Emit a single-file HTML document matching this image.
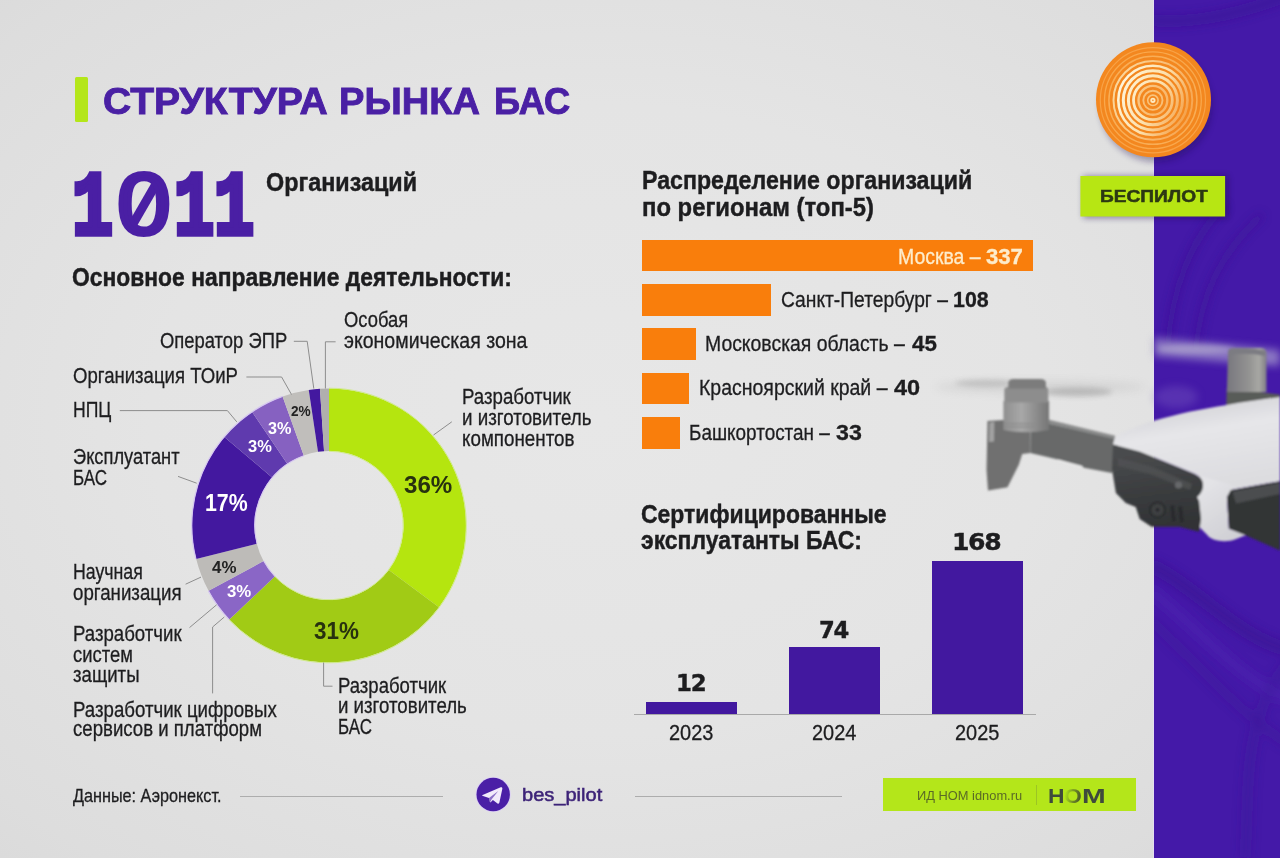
<!DOCTYPE html>
<html lang="ru">
<head>
<meta charset="utf-8">
<title>Структура рынка БАС</title>
<style>
*{margin:0;padding:0;box-sizing:border-box}
html,body{width:1280px;height:858px;overflow:hidden;background:#e4e4e4}
#page{position:relative;width:1280px;height:858px;overflow:hidden;
  background:radial-gradient(ellipse 1000px 700px at 600px 420px,#e7e7e7 0%,#e4e4e4 45%,#dddddd 80%,#d7d7d7 100%)}
.abs{position:absolute}
.t{position:absolute;white-space:nowrap;transform-origin:0 50%;line-height:1}
#stripe{position:absolute;left:1154px;top:0;width:126px;height:858px;background:#4419a8;overflow:hidden}
.hbar{position:absolute;left:641.6px;height:31.8px;background:#f97e0c}
.vbar{position:absolute;background:#42189f}
.gbox{position:absolute;background:#b4e61a}
svg{position:absolute;left:0;top:0;overflow:visible}

</style>
</head>
<body>
<div id="page">

<div id="stripe">
<svg width="126" height="858" viewBox="1154 0 126 858">
<defs><filter id="bw" x="-20%" y="-20%" width="140%" height="140%"><feGaussianBlur stdDeviation="4.5"/></filter></defs>
<g filter="url(#bw)" fill="none">
<path d="M1150 20C1200 25 1250 10 1290 -5" stroke="#3a1394" stroke-width="12" opacity=".5"/>
<path d="M1168 345C1172 290 1190 240 1225 205" stroke="#3a1392" stroke-width="7" opacity=".5"/>
<path d="M1196 350C1200 300 1218 255 1262 215" stroke="#3a1392" stroke-width="7" opacity=".45"/>
<path d="M1150 565C1195 585 1240 640 1290 650" stroke="#39128f" stroke-width="14" opacity=".5"/>
<path d="M1150 590C1195 625 1240 680 1290 700" stroke="#4d24b4" stroke-width="12" opacity=".45"/>
<path d="M1150 620C1195 660 1240 715 1290 745" stroke="#3b1494" stroke-width="10" opacity=".35"/>
<path d="M1245 858C1250 790 1240 720 1290 660" stroke="#3b1496" stroke-width="12" opacity=".3"/>
</g>
</svg>
</div>

<div class="abs" id="stripe-edge" style="left:1153.2px;top:0;width:1px;height:858px;background:#e6def5;opacity:.75"></div>
<div class="abs" id="zeroslash" style="left:139.6px;top:178px;width:8.6px;height:52px;background:#4a1fa4;transform:rotate(30deg)"></div>
<div class="abs" id="titlebar" style="left:74.8px;top:77.4px;width:13.2px;height:44.4px;background:#b4e61a;border-radius:1.5px"></div>

<svg id="donut" width="1280" height="858" viewBox="0 0 1280 858">
<g>
<path d="M329.00 388.50A137.0 137.0 0 0 1 438.99 607.18L388.81 569.92A74.5 74.5 0 0 0 329.00 451.00Z" fill="#b5e50f"/>
<path d="M438.99 607.18A137.0 137.0 0 0 1 229.30 619.46L274.78 576.59A74.5 74.5 0 0 0 388.81 569.92Z" fill="#a1cb15"/>
<path d="M229.30 619.46A137.0 137.0 0 0 1 208.60 590.87L263.53 561.05A74.5 74.5 0 0 0 274.78 576.59Z" fill="#8a66c6"/>
<path d="M208.60 590.87A137.0 137.0 0 0 1 196.19 559.11L256.78 543.78A74.5 74.5 0 0 0 263.53 561.05Z" fill="#bdbbb8"/>
<path d="M196.19 559.11A137.0 137.0 0 0 1 224.36 437.07L272.10 477.41A74.5 74.5 0 0 0 256.78 543.78Z" fill="#43189f"/>
<path d="M224.36 437.07A137.0 137.0 0 0 1 252.19 412.06L287.23 463.81A74.5 74.5 0 0 0 272.10 477.41Z" fill="#5f3aae"/>
<path d="M252.19 412.06A137.0 137.0 0 0 1 282.59 396.60L303.76 455.40A74.5 74.5 0 0 0 287.23 463.81Z" fill="#8661c1"/>
<path d="M282.59 396.60A137.0 137.0 0 0 1 308.75 390.00L317.99 451.82A74.5 74.5 0 0 0 303.76 455.40Z" fill="#c0bebb"/>
<path d="M308.75 390.00A137.0 137.0 0 0 1 319.92 388.80L324.06 451.16A74.5 74.5 0 0 0 317.99 451.82Z" fill="#43189f"/>
<path d="M319.92 388.80A137.0 137.0 0 0 1 329.00 388.50L329.00 451.00A74.5 74.5 0 0 0 324.06 451.16Z" fill="#b0afad"/>
<path d="M229.08 619.66A137.3 137.3 0 0 1 208.34 591.01" fill="none" stroke="#d6c8f0" stroke-width="1.3"/>
<path d="M195.90 559.18A137.3 137.3 0 0 1 282.49 396.32" fill="none" stroke="#d6c8f0" stroke-width="1.3"/>
<path d="M275.00 576.39A74.2 74.2 0 0 1 263.79 560.91" fill="none" stroke="#d6c8f0" stroke-width="1.1"/>
<path d="M257.07 543.70A74.2 74.2 0 0 1 303.87 455.69" fill="none" stroke="#d6c8f0" stroke-width="1.1"/>
<path d="M329.00 388.20A137.3 137.3 0 1 1 229.08 619.66" fill="none" stroke="#cfe98a" stroke-width="1.0"/>
<path d="M329.00 451.30A74.2 74.2 0 1 1 275.00 576.39" fill="none" stroke="#d2ea94" stroke-width="1.0"/>
</g>
<g fill="none" stroke="#8d8d8d" stroke-width="1">
<path d="M293.8 341.3H307.2L313.8 388.6"/>
<path d="M246.4 377H281.6L291.5 394.5"/>
<path d="M119.8 410.6H227.4L236.8 421.9"/>
<path d="M325.4 388.5V341.8H335.6"/>
<path d="M178 476.4L196.7 483.2"/>
<path d="M185.6 584.2L201 577.1"/>
<path d="M189.5 627.6L216.6 604.8"/>
<path d="M212.6 693.4V627L224.3 617"/>
<path d="M451.8 421.8L433.5 435"/>
<path d="M323.6 662.5V686.2H332.5"/>
</g>
</svg>

<div class="hbar" style="top:239.5px;width:391.5px"></div>
<div class="hbar" style="top:283.8px;width:129.4px"></div>
<div class="hbar" style="top:328.2px;width:54.2px"></div>
<div class="hbar" style="top:372.6px;width:47.6px"></div>
<div class="hbar" style="top:417px;width:38.5px"></div>

<div class="vbar" style="left:646px;top:701.5px;width:91px;height:12.5px"></div>
<div class="vbar" style="left:788.5px;top:647px;width:91px;height:67px"></div>
<div class="vbar" style="left:931.5px;top:561px;width:91px;height:153px"></div>
<div class="abs" style="left:634px;top:714px;width:402px;height:1px;background:#a9a9a9"></div>

<div class="abs" style="left:240.2px;top:796.3px;width:203.3px;height:1.1px;background:#adadad"></div>
<div class="abs" style="left:635px;top:796.3px;width:207px;height:1.1px;background:#adadad"></div>

<svg id="tg" width="1280" height="858" viewBox="0 0 1280 858">
<circle cx="493.2" cy="794.5" r="17.6" fill="#dcd0f5"/>
<circle cx="493.2" cy="794.5" r="16.7" fill="#4a1fa6"/>
<path d="M482.6 794.9L500.7 787.3C501.8 786.9 502.6 787.6 502.3 788.9L499.4 802.6C499.2 803.7 498.4 804 497.5 803.4L492.9 800L490.7 802.2C490.4 802.5 490 802.4 489.9 802L489 797.9L483 796.1C482.2 795.9 482.1 795.2 482.6 794.9Z" fill="#f1eafb"/>
<path d="M489 797.9L498.3 790.9L491.7 799.3L490.1 802.2Z" fill="#4a1fa6" opacity=".6"/>
</svg>

<div class="gbox" style="left:883.4px;top:777.8px;width:252.5px;height:33.3px"></div>
<div class="abs" style="left:1036.2px;top:784.8px;width:1px;height:20px;background:#9cc524"></div>

<svg id="logo" width="1280" height="858" viewBox="0 0 1280 858">
<defs>
<filter id="sh" x="-20%" y="-20%" width="140%" height="160%"><feGaussianBlur stdDeviation="3"/></filter>
<linearGradient id="rg" gradientUnits="userSpaceOnUse" x1="1118" y1="85" x2="1190" y2="118"><stop offset="0" stop-color="#fff6dc"/><stop offset=".5" stop-color="#fce0ac"/><stop offset="1" stop-color="#f4993c"/></linearGradient>
<linearGradient id="rg2" gradientUnits="userSpaceOnUse" x1="1110" y1="85" x2="1195" y2="118"><stop offset="0" stop-color="#fbd9a0"/><stop offset="1" stop-color="#f7a34c"/></linearGradient>
</defs>
<ellipse cx="1156" cy="106" rx="56" ry="56" fill="#1a0a50" opacity=".35" filter="url(#sh)"/>
<circle cx="1153.5" cy="99.8" r="57.5" fill="#f3871f"/>
<circle cx="1152.9" cy="100.3" r="1.7" fill="none" stroke="#fde9c0" stroke-width="1.8"/>
<circle cx="1152.9" cy="100.3" r="5.2" fill="none" stroke="#f9c47c" stroke-width="1.6"/>
<circle cx="1152.9" cy="100.3" r="9.6" fill="none" stroke="#f9c078" stroke-width="1.9"/>
<circle cx="1152.9" cy="100.3" r="14.4" fill="none" stroke="url(#rg2)" stroke-width="2.4"/>
<circle cx="1152.9" cy="100.3" r="19.4" fill="none" stroke="url(#rg)" stroke-width="2.8"/>
<circle cx="1152.9" cy="100.3" r="24.5" fill="none" stroke="url(#rg)" stroke-width="3.0"/>
<circle cx="1152.9" cy="100.3" r="29.6" fill="none" stroke="url(#rg)" stroke-width="3.0"/>
<circle cx="1152.9" cy="100.3" r="34.6" fill="none" stroke="url(#rg)" stroke-width="2.6"/>
<circle cx="1152.9" cy="100.3" r="39.4" fill="none" stroke="url(#rg2)" stroke-width="2.0"/>
<circle cx="1152.9" cy="100.3" r="44.0" fill="none" stroke="#f9ad55" stroke-width="1.5"/>
<circle cx="1152.9" cy="100.3" r="48.4" fill="none" stroke="#f9a84c" stroke-width="1.3"/>
<circle cx="1152.9" cy="100.3" r="52.6" fill="none" stroke="#f8a246" stroke-width="1.2"/>
<rect x="1083" y="176" width="145" height="42" fill="#1a0a50" opacity=".45" filter="url(#sh)"/>
<rect x="1080.4" y="176" width="144.7" height="40.5" fill="#b7e613"/>
</svg>

<svg id="drone" width="1280" height="858" viewBox="0 0 1280 858">
<defs>
<filter id="b1" x="-30%" y="-150%" width="160%" height="400%"><feGaussianBlur stdDeviation="4"/></filter>
<filter id="b3" x="-30%" y="-150%" width="160%" height="400%"><feGaussianBlur stdDeviation="2.5"/></filter>
<filter id="b2" x="-10%" y="-10%" width="120%" height="120%"><feGaussianBlur stdDeviation="0.8"/></filter>
<linearGradient id="shell" gradientUnits="userSpaceOnUse" x1="1190" y1="400" x2="1205" y2="490"><stop offset="0" stop-color="#d2d2d6"/><stop offset=".35" stop-color="#e6e6e9"/><stop offset="1" stop-color="#dcdcdf"/></linearGradient>
<linearGradient id="chin" gradientUnits="userSpaceOnUse" x1="1200" y1="490" x2="1235" y2="540"><stop offset="0" stop-color="#e3e3e6"/><stop offset="1" stop-color="#cfcfd4"/></linearGradient>
<linearGradient id="cyl" gradientUnits="userSpaceOnUse" x1="1003" y1="0" x2="1049" y2="0"><stop offset="0" stop-color="#8e8e8e"/><stop offset=".4" stop-color="#a8a8a8"/><stop offset=".75" stop-color="#8a8a8a"/><stop offset="1" stop-color="#767676"/></linearGradient>
<linearGradient id="cyl2" gradientUnits="userSpaceOnUse" x1="1227" y1="0" x2="1267" y2="0"><stop offset="0" stop-color="#78777e"/><stop offset=".55" stop-color="#939392"/><stop offset=".8" stop-color="#a8a8a4"/><stop offset="1" stop-color="#7c7b82"/></linearGradient>
<linearGradient id="gim" gradientUnits="userSpaceOnUse" x1="1150" y1="450" x2="1160" y2="530"><stop offset="0" stop-color="#4a4c4e"/><stop offset=".5" stop-color="#3b3d3f"/><stop offset="1" stop-color="#303234"/></linearGradient>
</defs>
<!-- left prop blur -->
<ellipse cx="1040" cy="387" rx="105" ry="6" fill="#9a9a9a" opacity=".2" filter="url(#b1)"/>
<ellipse cx="1078" cy="392" rx="34" ry="4.5" fill="#777" opacity=".32" filter="url(#b3)"/>
<ellipse cx="985" cy="383" rx="30" ry="3.5" fill="#888" opacity=".3" filter="url(#b3)"/>
<!-- right prop blur -->
<path d="M1154 338L1280 350L1280 366L1154 356Z" fill="#aaa0cf" opacity=".7" filter="url(#b1)"/>
<ellipse cx="1196" cy="349" rx="38" ry="4.5" fill="#b9b2d2" opacity=".5" filter="url(#b3)"/>
<ellipse cx="1176" cy="397" rx="22" ry="11" fill="#7a5cc2" opacity=".38" filter="url(#b1)"/>
<g filter="url(#b2)">
<!-- right rear motor -->
<path d="M1226.8 387.6L1280 394.6V412H1226Z" fill="#595b58"/>
<path d="M1228 352Q1228 348 1234 348H1260Q1266.500 348 1266.500 353V392H1226.800Z" fill="url(#cyl2)"/>
<path d="M1229 350Q1247 346 1265 351L1265 356Q1247 352 1229 355Z" fill="#7c7b82"/>
<!-- left leg -->
<path d="M987.500 421L1004 420L1030 430L1030.400 453L1022.200 454L1018.900 464.400L1007.500 487.200L988 490.500L986.500 470Z" fill="#6f6f6f"/>
<path d="M989.500 422.500L994.400 422L994 441.500L989 442Z" fill="#a2a2a2"/>
<!-- left arm -->
<path d="M1030.400 419.500L1115.200 438.300L1118 446L1112 473L1084.200 467.700L1058.100 459.500L1030.400 453Z" fill="#676969"/>
<path d="M1048 419.500L1115.200 435.800L1115.200 439.300L1048 423.500Z" fill="#8a8b8b"/>
<path d="M1058.100 459.500L1082.600 466L1082.200 468.200L1058.100 461.600Z" fill="#e9e9e9"/>
<!-- left motor -->
<path d="M1003.400 401H1049.100V430.100Q1026 434.500 1003.400 430.100Z" fill="url(#cyl)"/>
<path d="M1004.300 390Q1004.300 387 1008 387H1045Q1048.300 387 1048.300 390V402.400H1004.300Z" fill="#8d8d8d"/>
<path d="M1008.300 383Q1008.300 379 1014 379H1040Q1045.900 379 1045.900 383V388.500H1008.300Z" fill="#7b7b7b"/>
<path d="M1004 423H1035V424.300H1004ZM1004 426.200H1035V427.500H1004Z" fill="#8a8a8a"/>
<!-- body shell -->
<path d="M1114.900 437.600C1120 433 1125 431 1129.700 429.700C1138 426 1146 423 1153.900 420.700C1166 417.500 1178 414.500 1189.200 411.800C1202 409 1214 407 1226.900 404.900C1245 402 1262 399.500 1280 396.900L1280 481.200L1230.800 490.100L1203.100 481.200C1200 477 1197 475 1193.200 473.300L1169.400 463.400L1139.700 451.500L1112.900 444.500Z" fill="url(#shell)"/>
<!-- chin -->
<path d="M1201 476L1236 486L1226.900 497.100L1228.900 528.800L1246.700 534.700L1236.800 538.700C1230 541.500 1224 541.500 1218.900 540.700C1212 539.500 1209 537.500 1207.100 534.700C1200 528 1196 523 1195 518.900L1193 490Z" fill="url(#chin)"/>
<!-- gimbal dark -->
<path d="M1112.900 444.500L1139.700 451.500L1169.400 463.400L1193.200 473.300C1199 476 1203.100 479 1203.100 485C1203.100 491 1200 494.500 1197.100 497.100L1199.100 501L1201.100 518.900L1199.100 531.700L1179.300 526.800H1151.500L1139.700 518.900L1135.700 507L1125.800 503L1115.900 493.100L1111.900 469.300Z" fill="url(#gim)"/>
<path d="M1118 458L1150 466L1192 484L1190 490L1150 474L1118 466Z" fill="#525456" opacity=".7"/>
<circle cx="1157.500" cy="509.900" r="7.600" fill="#3a3c3e" stroke="#26282b" stroke-width="1.600"/>
<circle cx="1157.500" cy="509.900" r="3.200" fill="#2a2c2f" stroke="#55575a" stroke-width="0.800"/>
<circle cx="1178.500" cy="485" r="3.600" fill="#66686a"/>
<path d="M1170 506L1174 505L1176 521L1172 522ZM1178 507L1182 506L1184 522L1180 523Z" fill="#2a2c2e"/>
<!-- right arm -->
<path d="M1230.800 490.100L1280 481.200V550.600L1246.700 535.700L1228.900 528.800L1226.900 497.100Z" fill="#323436"/>
<path d="M1232.500 491.500L1280 482.800V494L1236 503.500Z" fill="#4b4d4f"/>
</g>
</svg>

<div id="texts">
<div class="t" id="title1" style='left:102.8px;top:82.60px;font:700 37.6px/1 "Liberation Sans", "DejaVu Sans", sans-serif;color:#4a20a4;transform:scaleX(1.0388);-webkit-text-stroke:0.9px #4a20a4;'>СТРУКТУРА</div>
<div class="t" id="title2" style='left:338.7px;top:82.60px;font:700 37.6px/1 "Liberation Sans", "DejaVu Sans", sans-serif;color:#4a20a4;transform:scaleX(1.0131);-webkit-text-stroke:0.9px #4a20a4;'>РЫНКА</div>
<div class="t" id="title3" style='left:494.2px;top:82.60px;font:700 37.6px/1 "Liberation Sans", "DejaVu Sans", sans-serif;color:#4a20a4;transform:scaleX(0.9655);-webkit-text-stroke:0.9px #4a20a4;'>БАС</div>
<div class="t" id="big1a" style='left:71.9px;top:163.80px;font:700 91px/1 "Liberation Mono", "DejaVu Sans Mono", monospace;color:#4a1fa4;transform:scaleX(0.7500);-webkit-text-stroke:5.6px #4a1fa4;'>1</div>
<div class="t" id="big0" style='left:117.2px;top:160.00px;font:400 88px/1 "Liberation Sans", "DejaVu Sans", sans-serif;color:#4a1fa4;transform:scaleX(1.1000);-webkit-text-stroke:4.2px #4a1fa4;'>0</div>
<div class="t" id="big1b" style='left:173.7px;top:163.80px;font:700 91px/1 "Liberation Mono", "DejaVu Sans Mono", monospace;color:#4a1fa4;transform:scaleX(0.7350);-webkit-text-stroke:5.6px #4a1fa4;'>1</div>
<div class="t" id="big1c" style='left:213.5px;top:163.80px;font:700 91px/1 "Liberation Mono", "DejaVu Sans Mono", monospace;color:#4a1fa4;transform:scaleX(0.7350);-webkit-text-stroke:5.6px #4a1fa4;'>1</div>
<div class="t" id="org" style='left:265.8px;top:169.70px;font:700 25.8px/1 "Liberation Sans", "DejaVu Sans", sans-serif;color:#1d1d1f;transform:scaleX(0.9055);-webkit-text-stroke:0.45px #1d1d1f;'>Организаций</div>
<div class="t" id="h1" style='left:72.4px;top:265.40px;font:700 25.8px/1 "Liberation Sans", "DejaVu Sans", sans-serif;color:#1d1d1f;transform:scaleX(0.8860);-webkit-text-stroke:0.45px #1d1d1f;'>Основное направление деятельности:</div>
<div class="t" id="l_oper" style='left:160.1px;top:329.90px;font:400 21.6px/1 "Liberation Sans", "DejaVu Sans", sans-serif;color:#1d1d1f;transform:scaleX(0.8528);-webkit-text-stroke:0.3px #1d1d1f;'>Оператор ЭПР</div>
<div class="t" id="l_toir" style='left:72.7px;top:365.00px;font:400 21.6px/1 "Liberation Sans", "DejaVu Sans", sans-serif;color:#1d1d1f;transform:scaleX(0.8601);-webkit-text-stroke:0.3px #1d1d1f;'>Организация ТОиР</div>
<div class="t" id="l_npc" style='left:72.6px;top:399.10px;font:400 21.6px/1 "Liberation Sans", "DejaVu Sans", sans-serif;color:#1d1d1f;transform:scaleX(0.8154);-webkit-text-stroke:0.3px #1d1d1f;'>НПЦ</div>
<div class="t" id="l_exp1" style='left:72.5px;top:446.00px;font:400 21.6px/1 "Liberation Sans", "DejaVu Sans", sans-serif;color:#1d1d1f;transform:scaleX(0.8465);-webkit-text-stroke:0.3px #1d1d1f;'>Эксплуатант</div>
<div class="t" id="l_exp2" style='left:72.5px;top:467.00px;font:400 21.6px/1 "Liberation Sans", "DejaVu Sans", sans-serif;color:#1d1d1f;transform:scaleX(0.7876);-webkit-text-stroke:0.3px #1d1d1f;'>БАС</div>
<div class="t" id="l_sci1" style='left:72.5px;top:561.40px;font:400 21.6px/1 "Liberation Sans", "DejaVu Sans", sans-serif;color:#1d1d1f;transform:scaleX(0.8213);-webkit-text-stroke:0.3px #1d1d1f;'>Научная</div>
<div class="t" id="l_sci2" style='left:72.5px;top:582.20px;font:400 21.6px/1 "Liberation Sans", "DejaVu Sans", sans-serif;color:#1d1d1f;transform:scaleX(0.8653);-webkit-text-stroke:0.3px #1d1d1f;'>организация</div>
<div class="t" id="l_sys1" style='left:72.5px;top:622.60px;font:400 21.6px/1 "Liberation Sans", "DejaVu Sans", sans-serif;color:#1d1d1f;transform:scaleX(0.8619);-webkit-text-stroke:0.3px #1d1d1f;'>Разработчик</div>
<div class="t" id="l_sys2" style='left:72.5px;top:643.50px;font:400 21.6px/1 "Liberation Sans", "DejaVu Sans", sans-serif;color:#1d1d1f;transform:scaleX(0.8529);-webkit-text-stroke:0.3px #1d1d1f;'>систем</div>
<div class="t" id="l_sys3" style='left:72.5px;top:663.90px;font:400 21.6px/1 "Liberation Sans", "DejaVu Sans", sans-serif;color:#1d1d1f;transform:scaleX(0.8625);-webkit-text-stroke:0.3px #1d1d1f;'>защиты</div>
<div class="t" id="l_dig1" style='left:72.5px;top:698.50px;font:400 21.6px/1 "Liberation Sans", "DejaVu Sans", sans-serif;color:#1d1d1f;transform:scaleX(0.8636);-webkit-text-stroke:0.3px #1d1d1f;'>Разработчик цифровых</div>
<div class="t" id="l_dig2" style='left:72.5px;top:717.80px;font:400 21.6px/1 "Liberation Sans", "DejaVu Sans", sans-serif;color:#1d1d1f;transform:scaleX(0.8617);-webkit-text-stroke:0.3px #1d1d1f;'>сервисов и платформ</div>
<div class="t" id="l_oez1" style='left:343.6px;top:308.60px;font:400 21.6px/1 "Liberation Sans", "DejaVu Sans", sans-serif;color:#1d1d1f;transform:scaleX(0.8505);-webkit-text-stroke:0.3px #1d1d1f;'>Особая</div>
<div class="t" id="l_oez2" style='left:343.6px;top:330.10px;font:400 21.6px/1 "Liberation Sans", "DejaVu Sans", sans-serif;color:#1d1d1f;transform:scaleX(0.9044);-webkit-text-stroke:0.3px #1d1d1f;'>экономическая зона</div>
<div class="t" id="l_cmp1" style='left:461.8px;top:386.30px;font:400 21.6px/1 "Liberation Sans", "DejaVu Sans", sans-serif;color:#1d1d1f;transform:scaleX(0.8639);-webkit-text-stroke:0.3px #1d1d1f;'>Разработчик</div>
<div class="t" id="l_cmp2" style='left:461.8px;top:407.20px;font:400 21.6px/1 "Liberation Sans", "DejaVu Sans", sans-serif;color:#1d1d1f;transform:scaleX(0.8694);-webkit-text-stroke:0.3px #1d1d1f;'>и изготовитель</div>
<div class="t" id="l_cmp3" style='left:461.8px;top:427.70px;font:400 21.6px/1 "Liberation Sans", "DejaVu Sans", sans-serif;color:#1d1d1f;transform:scaleX(0.8704);-webkit-text-stroke:0.3px #1d1d1f;'>компонентов</div>
<div class="t" id="l_bas1" style='left:337.6px;top:674.90px;font:400 21.6px/1 "Liberation Sans", "DejaVu Sans", sans-serif;color:#1d1d1f;transform:scaleX(0.8584);-webkit-text-stroke:0.3px #1d1d1f;'>Разработчик</div>
<div class="t" id="l_bas2" style='left:337.6px;top:695.40px;font:400 21.6px/1 "Liberation Sans", "DejaVu Sans", sans-serif;color:#1d1d1f;transform:scaleX(0.8647);-webkit-text-stroke:0.3px #1d1d1f;'>и изготовитель</div>
<div class="t" id="l_bas3" style='left:337.6px;top:716.00px;font:400 21.6px/1 "Liberation Sans", "DejaVu Sans", sans-serif;color:#1d1d1f;transform:scaleX(0.7841);-webkit-text-stroke:0.3px #1d1d1f;'>БАС</div>
<div class="t" id="p36" style='left:404.0px;top:472.80px;font:700 24.7px/1 "Liberation Sans", "DejaVu Sans", sans-serif;color:#27310f;transform:scaleX(0.9773);'>36%</div>
<div class="t" id="p31" style='left:314.4px;top:618.80px;font:700 24.4px/1 "Liberation Sans", "DejaVu Sans", sans-serif;color:#27310f;transform:scaleX(0.9196);'>31%</div>
<div class="t" id="p17" style='left:204.8px;top:491.50px;font:700 23.3px/1 "Liberation Sans", "DejaVu Sans", sans-serif;color:#fff;transform:scaleX(0.9155);'>17%</div>
<div class="t" id="p4" style='left:212.1px;top:558.70px;font:700 17px/1 "Liberation Sans", "DejaVu Sans", sans-serif;color:#222;transform:scaleX(0.9928);'>4%</div>
<div class="t" id="p3a" style='left:227.2px;top:583.10px;font:700 17px/1 "Liberation Sans", "DejaVu Sans", sans-serif;color:#fff;transform:scaleX(0.9887);'>3%</div>
<div class="t" id="p3b" style='left:247.5px;top:437.85px;font:700 17px/1 "Liberation Sans", "DejaVu Sans", sans-serif;color:#fff;transform:scaleX(0.9683);'>3%</div>
<div class="t" id="p3c" style='left:268.4px;top:419.70px;font:700 17px/1 "Liberation Sans", "DejaVu Sans", sans-serif;color:#fff;transform:scaleX(0.9521);'>3%</div>
<div class="t" id="p2" style='left:290.7px;top:403.90px;font:700 14px/1 "Liberation Sans", "DejaVu Sans", sans-serif;color:#222;transform:scaleX(0.9736);'>2%</div>
<div class="t" id="h2a" style='left:641.8px;top:167.40px;font:700 26.4px/1 "Liberation Sans", "DejaVu Sans", sans-serif;color:#1d1d1f;transform:scaleX(0.8776);-webkit-text-stroke:0.45px #1d1d1f;'>Распределение организаций</div>
<div class="t" id="h2b" style='left:641.8px;top:194.20px;font:700 26.4px/1 "Liberation Sans", "DejaVu Sans", sans-serif;color:#1d1d1f;transform:scaleX(0.9038);-webkit-text-stroke:0.45px #1d1d1f;'>по регионам (топ-5)</div>
<div class="t" id="r1" style='left:897.5px;top:245.50px;font:400 21.6px/1 "Liberation Sans", "DejaVu Sans", sans-serif;color:#fdeccb;transform:scaleX(0.8993);-webkit-text-stroke:0.3px #fdeccb;'>Москва –</div>
<div class="t" id="r1n" style='left:986.2px;top:245.50px;font:700 21.6px/1 "Liberation Sans", "DejaVu Sans", sans-serif;color:#fdeccb;transform:scaleX(1.0241);-webkit-text-stroke:0.3px;'>337</div>
<div class="t" id="r2" style='left:780.7px;top:288.60px;font:400 21.6px/1 "Liberation Sans", "DejaVu Sans", sans-serif;color:#1d1d1f;transform:scaleX(0.8907);-webkit-text-stroke:0.3px #1d1d1f;'>Санкт-Петербург –</div>
<div class="t" id="r2n" style='left:953.1px;top:288.60px;font:700 21.6px/1 "Liberation Sans", "DejaVu Sans", sans-serif;color:#1d1d1f;transform:scaleX(0.9908);-webkit-text-stroke:0.3px;'>108</div>
<div class="t" id="r3" style='left:705.0px;top:332.80px;font:400 21.6px/1 "Liberation Sans", "DejaVu Sans", sans-serif;color:#1d1d1f;transform:scaleX(0.8985);-webkit-text-stroke:0.3px #1d1d1f;'>Московская область –</div>
<div class="t" id="r3n" style='left:911.5px;top:332.80px;font:700 21.6px/1 "Liberation Sans", "DejaVu Sans", sans-serif;color:#1d1d1f;transform:scaleX(1.0362);-webkit-text-stroke:0.3px;'>45</div>
<div class="t" id="r4" style='left:698.9px;top:377.30px;font:400 21.6px/1 "Liberation Sans", "DejaVu Sans", sans-serif;color:#1d1d1f;transform:scaleX(0.9022);-webkit-text-stroke:0.3px #1d1d1f;'>Красноярский край –</div>
<div class="t" id="r4n" style='left:894.0px;top:377.30px;font:700 21.6px/1 "Liberation Sans", "DejaVu Sans", sans-serif;color:#1d1d1f;transform:scaleX(1.0902);-webkit-text-stroke:0.3px;'>40</div>
<div class="t" id="r5" style='left:688.6px;top:421.80px;font:400 21.6px/1 "Liberation Sans", "DejaVu Sans", sans-serif;color:#1d1d1f;transform:scaleX(0.8756);-webkit-text-stroke:0.3px #1d1d1f;'>Башкортостан –</div>
<div class="t" id="r5n" style='left:835.8px;top:421.80px;font:700 21.6px/1 "Liberation Sans", "DejaVu Sans", sans-serif;color:#1d1d1f;transform:scaleX(1.0736);-webkit-text-stroke:0.3px;'>33</div>
<div class="t" id="h3a" style='left:640.8px;top:500.50px;font:700 26.4px/1 "Liberation Sans", "DejaVu Sans", sans-serif;color:#1d1d1f;transform:scaleX(0.8700);-webkit-text-stroke:0.45px #1d1d1f;'>Сертифицированные</div>
<div class="t" id="h3b" style='left:640.8px;top:527.00px;font:700 26.4px/1 "Liberation Sans", "DejaVu Sans", sans-serif;color:#1d1d1f;transform:scaleX(0.8696);-webkit-text-stroke:0.45px #1d1d1f;'>эксплуатанты БАС:</div>
<div class="t" id="v12" style='left:676.0px;top:671.00px;font:700 23.3px/1 "DejaVu Sans", "Liberation Sans", sans-serif;color:#1d1d1f;transform:scaleX(0.9823);letter-spacing:-1.3px;-webkit-text-stroke:0.4px #1d1d1f;'>12</div>
<div class="t" id="v74" style='left:819.4px;top:617.60px;font:700 23.3px/1 "DejaVu Sans", "Liberation Sans", sans-serif;color:#1d1d1f;transform:scaleX(0.9722);letter-spacing:-1.3px;-webkit-text-stroke:0.4px #1d1d1f;'>74</div>
<div class="t" id="v168" style='left:951.6px;top:530.40px;font:700 23.3px/1 "DejaVu Sans", "Liberation Sans", sans-serif;color:#1d1d1f;transform:scaleX(1.0775);letter-spacing:-1.3px;-webkit-text-stroke:0.4px #1d1d1f;'>168</div>
<div class="t" id="y23" style='left:669.3px;top:721.60px;font:400 21.6px/1 "Liberation Sans", "DejaVu Sans", sans-serif;color:#1d1d1f;transform:scaleX(0.9241);-webkit-text-stroke:0.3px #1d1d1f;'>2023</div>
<div class="t" id="y24" style='left:812.2px;top:721.60px;font:400 21.6px/1 "Liberation Sans", "DejaVu Sans", sans-serif;color:#1d1d1f;transform:scaleX(0.9241);-webkit-text-stroke:0.3px #1d1d1f;'>2024</div>
<div class="t" id="y25" style='left:955.2px;top:721.60px;font:400 21.6px/1 "Liberation Sans", "DejaVu Sans", sans-serif;color:#1d1d1f;transform:scaleX(0.9241);-webkit-text-stroke:0.3px #1d1d1f;'>2025</div>
<div class="t" id="src" style='left:72.9px;top:786.60px;font:400 18.5px/1 "Liberation Sans", "DejaVu Sans", sans-serif;color:#1d1d1f;transform:scaleX(0.8767);-webkit-text-stroke:0.3px #1d1d1f;'>Данные: Аэронекст.</div>
<div class="t" id="tg" style='left:522.0px;top:785.25px;font:400 19.2px/1 "Liberation Sans", "DejaVu Sans", sans-serif;color:#3d2378;transform:scaleX(1.0448);-webkit-text-stroke:0.55px #3d2378;'>bes_pilot</div>
<div class="t" id="idnom" style='left:917.1px;top:789.50px;font:400 12.4px/1 "Liberation Sans", "DejaVu Sans", sans-serif;color:#5a6a26;transform:scaleX(1.0374);'>ИД НОМ idnom.ru</div>
<div class="t" id="nomH" style='left:1047.8px;top:785.70px;font:700 20.6px/1 "Liberation Sans", "DejaVu Sans", sans-serif;color:#3f4a3c;transform:scaleX(1.1092);'>Н</div>
<div class="t" id="nomO" style='left:1064.2px;top:785.70px;font:700 20.6px/1 "Liberation Sans", "DejaVu Sans", sans-serif;color:transparent;transform:scaleX(1.1103);background:linear-gradient(100deg,#a9dd1a 15%,#6e8a25 55%,#45532b 90%);-webkit-background-clip:text;background-clip:text;'>О</div>
<div class="t" id="nomM" style='left:1081.8px;top:785.70px;font:700 20.6px/1 "Liberation Sans", "DejaVu Sans", sans-serif;color:#3f4a3c;transform:scaleX(1.3814);'>М</div>
<div class="t" id="badge" style='left:1100.3px;top:189.10px;font:700 16px/1 "Liberation Sans", "DejaVu Sans", sans-serif;color:#2c3813;transform:scaleX(1.1955);-webkit-text-stroke:0.5px #2c3813;'>БЕСПИЛОТ</div>
</div>
</div>
</body>
</html>
